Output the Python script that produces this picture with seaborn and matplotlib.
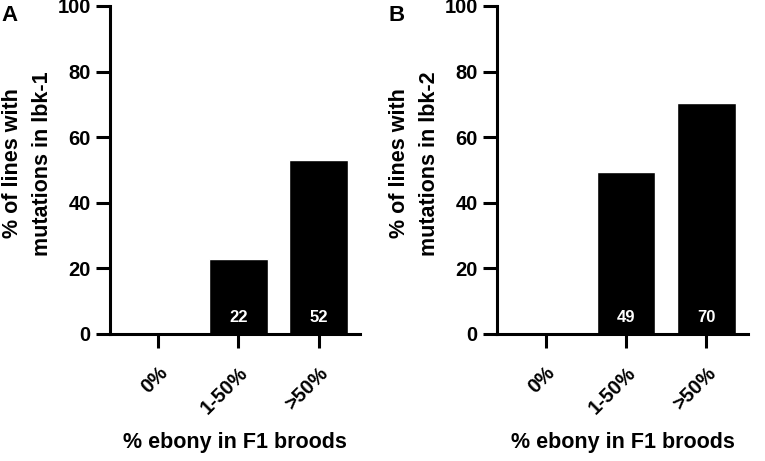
import matplotlib
matplotlib.use("Agg")
import matplotlib.pyplot as plt
import seaborn as sns
import pandas as pd

# data
categories = ["0%", "1-50%", ">50%"]
pct_lbk1 = [0, 23, 53]
pct_lbk2 = [0, 49.5, 70.5]
n_lbk1 = ["", "22", "52"]
n_lbk2 = ["", "49", "70"]
panel_letters = ["A", "B"]
ylabels = ["% of lines with\nmutations in lbk-1", "% of lines with\nmutations in lbk-2"]
xlabel = "% ebony in F1 broods"

sns.set_theme(style="ticks")
plt.rcParams["font.family"] = ["Liberation Sans", "DejaVu Sans"]
plt.rcParams["font.weight"] = "bold"
plt.rcParams["text.color"] = "black"
plt.rcParams["axes.labelcolor"] = "black"
plt.rcParams["xtick.color"] = "black"
plt.rcParams["ytick.color"] = "black"

fig = plt.figure(figsize=(7.65, 4.61), dpi=100)
ax_a = fig.add_axes([0.144, 0.2755, 0.327, 0.7115])
ax_b = fig.add_axes([0.650, 0.2755, 0.328, 0.7115])

panels = [
    (ax_a, pct_lbk1, n_lbk1, ylabels[0], panel_letters[0]),
    (ax_b, pct_lbk2, n_lbk2, ylabels[1], panel_letters[1]),
]

for ax, vals, counts, ylab, letter in panels:
    df = pd.DataFrame({"cat": categories, "val": vals})
    sns.barplot(data=df, x="cat", y="val", color="black", width=0.73,
                saturation=1, ax=ax)
    ax.set_xlim(-0.6, 2.52)
    ax.set_ylim(0, 100)
    ax.set_yticks([0, 20, 40, 60, 80, 100])
    sns.despine(ax=ax)
    for side in ["left", "bottom"]:
        ax.spines[side].set_linewidth(2.2)
        ax.spines[side].set_color("black")
    ax.tick_params(axis="both", width=2.2, length=10, color="black",
                   labelsize=14.5, pad=4)
    ax.tick_params(axis="x", pad=11)
    for lbl in ax.get_yticklabels():
        lbl.set_fontweight("bold")
    ax.set_xticks(range(len(categories)))
    ax.set_xticklabels(categories, rotation=45, ha="right",
                       rotation_mode="anchor", fontweight="bold", fontsize=14.5)
    ax.set_ylabel(ylab, fontsize=15.5, fontweight="bold", linespacing=1.55)
    ax.yaxis.set_label_coords(-0.228, 0.52)
    ax.set_xlabel(xlabel, fontsize=15.5, fontweight="bold")
    ax.xaxis.set_label_coords(0.5, -0.3)
    for i, c in enumerate(counts):
        if c:
            ax.text(i, 5, c, color="white", ha="center", va="center",
                    fontsize=12, fontweight="bold")
    pos = ax.get_position()
    fig.text(pos.x0 - 0.142, 0.99, letter, fontsize=16, fontweight="bold",
             ha="left", va="top")

fig.savefig("out.png", dpi=100)
